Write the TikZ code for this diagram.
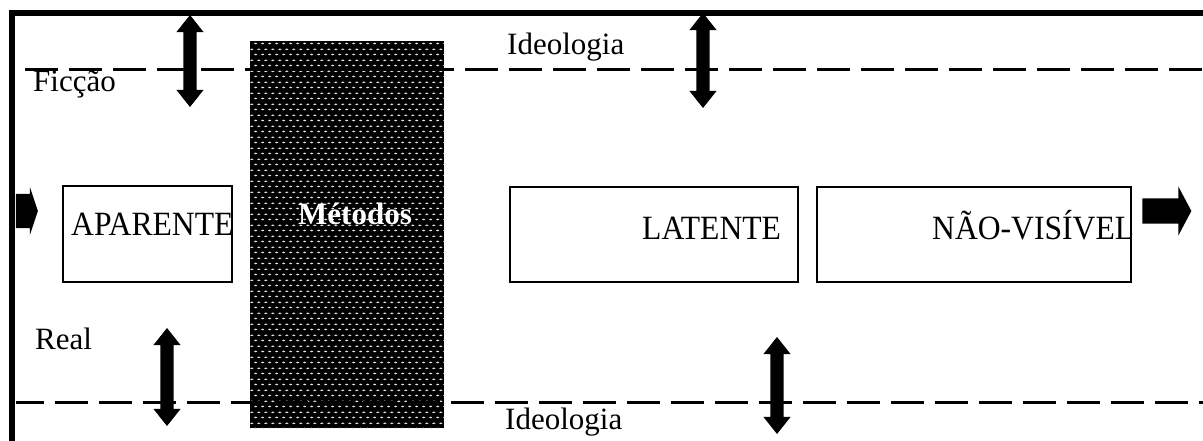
\documentclass[tikz,border=0pt]{standalone}
\usepackage{fontspec}
\setmainfont{Liberation Serif}
\newfontfamily\boxfont{Liberation Serif}[FakeStretch=0.93]
\usetikzlibrary{patterns.meta,shapes.arrows}
\tikzdeclarepattern{name=metdots,type=uncolored,
  bounding box={(0pt,0pt) and (6.7pt,10.6pt)},
  tile size={(6.7pt,10.6pt)},
  code={
    \fill (1.7pt,2.65pt) ellipse [x radius=1.8pt,y radius=0.9pt];
    \fill (5.05pt,7.95pt) ellipse [x radius=1.8pt,y radius=0.9pt];
  }}
\begin{document}
\begin{tikzpicture}[x=1pt,y=-1pt,
  lbl/.style={font=\fontsize{31}{36}\selectfont, inner sep=0pt, anchor=base west},
  boxlbl/.style={font=\boxfont\fontsize{34}{40}\selectfont, inner sep=0pt, anchor=base west},
  box/.style={draw, line width=2pt, inner sep=0pt},
  dashline/.style={line width=3pt, dash pattern=on 33pt off 11pt},
  vdarrow/.style={double arrow, fill=black, draw=none, rotate=90, inner xsep=0pt,
    inner ysep=6.5pt, double arrow head extend=7pt, double arrow tip angle=77},
  blockarrow/.style={single arrow, fill=black, draw=none, inner xsep=0pt}]
\useasboundingbox (0,0) rectangle (1203,441);
% Metodos block
\fill[black] (250,41) rectangle (444,428);
\fill[pattern=metdots, pattern color=white!90!black] (250,41) rectangle (444,428);
% frame
\draw[line width=6pt, line join=miter] (12,441) -- (12,13) -- (1203,13);
% dashed lines
\coordinate (tl) at (25,70);
\coordinate (tr) at (1203,70);
\coordinate (bl) at (16,402);
\coordinate (br) at (1203,402);
\draw[dashline] (tl) -- (tr);
\draw[dashline, dash phase=5pt] (bl) -- (br);
% boxes
\node[box, minimum width=169pt, minimum height=96pt] (apb) at (147.5,234) {};
\node[box, minimum width=288pt, minimum height=95pt] (lab) at (654,234.5) {};
\node[box, minimum width=314pt, minimum height=95pt] (nvb) at (974,234.5) {};
% texts
\node[boxlbl] (apt) at (71,236) {APARENTE};
\node[boxlbl] (lat) at (642,240) {LATENTE};
\node[boxlbl] (nvt) at (932,240) {NÃO-VISÍVEL};
\node[lbl, text=white, font=\fontsize{31}{36}\selectfont\bfseries] (met) at (298,225) {Métodos};
\node[lbl] (fic) at (33,92) {Ficção};
\node[lbl] (rea) at (35,349) {Real};
\node[lbl] (ide1) at (507,55) {Ideologia};
\node[lbl] (ide2) at (505,429) {Ideologia};
% vertical double arrows
\node[vdarrow, minimum height=92pt] (da1) at (190,61) {};
\node[vdarrow, minimum height=95pt] (da2) at (703,60.5) {};
\node[vdarrow, minimum height=98pt] (da3) at (167,377) {};
\node[vdarrow, minimum height=97pt] (da4) at (777,385.5) {};
% block arrows
\node[blockarrow, minimum height=22pt, inner ysep=17pt,
  single arrow head extend=7pt, single arrow tip angle=143] (la) at (24,211) {};
\node[blockarrow, minimum height=49pt, inner ysep=12.5pt,
  single arrow head extend=12pt, single arrow tip angle=124] (ra) at (1163.5,211) {};
\end{tikzpicture}
\end{document}
